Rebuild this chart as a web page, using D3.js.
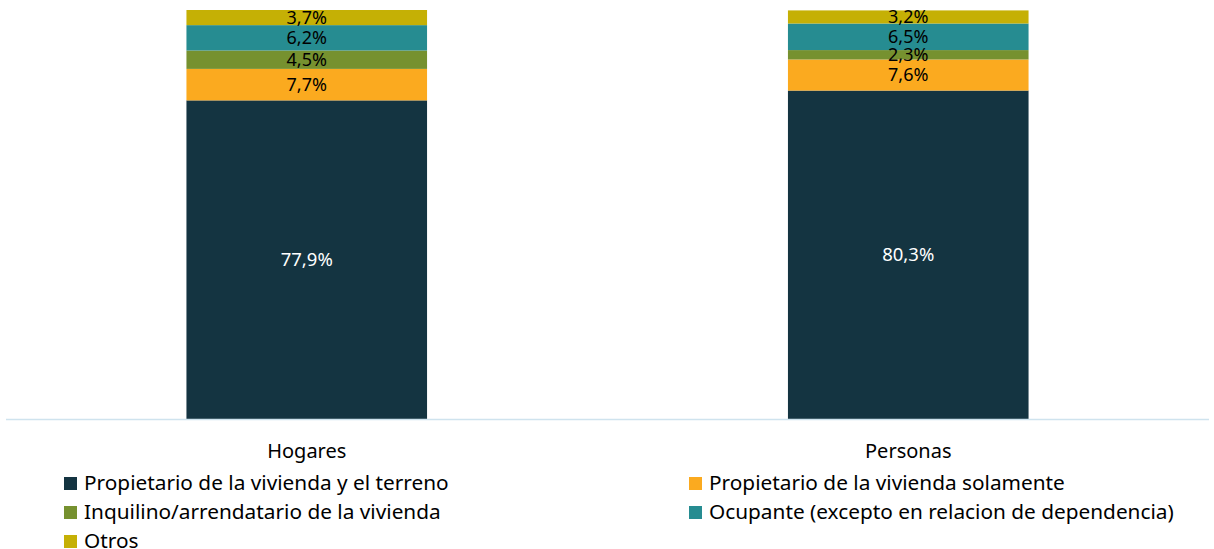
<!DOCTYPE html>
<html><head><meta charset="utf-8">
<script src="https://cdn.jsdelivr.net/npm/d3@7"></script>
<style>body{margin:0;background:#fff}svg{display:block}text{font-family:"Noto Sans",sans-serif}</style>
</head><body>
<svg id="c" width="1214" height="549"></svg>
<script>
const categories = ["Hogares", "Personas"];
const seriesNames = ["Propietario de la vivienda y el terreno","Propietario de la vivienda solamente","Inquilino/arrendatario de la vivienda","Ocupante (excepto en relacion de dependencia)","Otros"];
const propViviendaTerreno = [77.9, 80.3];
const propViviendaSolamente = [7.7, 7.6];
const inquilino = [4.5, 2.3];
const ocupante = [6.2, 6.5];
const otros = [3.7, 3.2];
const colors = ["#143441","#FBAA1F","#76912F","#268C91","#C5B005"];
const labelColors = ["#ffffff","#000000","#000000","#000000","#000000"];

const series = [propViviendaTerreno, propViviendaSolamente, inquilino, ocupante, otros];
const rows = categories.map((c,i)=>{const o={cat:c}; seriesNames.forEach((s,j)=>o[s]=series[j][i]); return o;});
const stacked = d3.stack().keys(seriesNames)(rows);

const svg = d3.select("#c");
const x = d3.scaleBand().domain(categories).range([6,1209]).paddingInner(0.6).paddingOuter(0.3);
const y = d3.scaleLinear().domain([0,100]).range([419,10]);

const fmt = v => v.toFixed(1).replace(".", ",") + "%";

stacked.forEach((layer,j)=>{
  const g = svg.append("g");
  g.selectAll("rect").data(layer).join("rect")
    .attr("x", d=>x(d.data.cat)).attr("width", x.bandwidth())
    .attr("y", d=>y(d[1])).attr("height", d=>y(d[0])-y(d[1]))
    .attr("fill", colors[j]);
});
stacked.forEach((layer,j)=>{
  svg.append("g").selectAll("text").data(layer).join("text")
    .attr("x", d=>x(d.data.cat)+x.bandwidth()/2)
    .attr("y", d=>(y(d[0])+y(d[1]))/2)
    .attr("dy","0.35em").attr("text-anchor","middle")
    .attr("font-size", j===0 ? 18.5 : 18).attr("fill", labelColors[j])
    .text(d=>fmt(d[1]-d[0]));
});

// axis line
svg.append("line").attr("x1",6).attr("x2",1209).attr("y1",419.5).attr("y2",419.5)
  .attr("stroke","#cfe3ee").attr("stroke-width",1.5);

const xAxis = svg.append("g").attr("transform","translate(0,420)")
  .call(d3.axisBottom(x).tickSize(0).tickPadding(0));
xAxis.select(".domain").remove();
xAxis.selectAll("text").attr("font-size",20).attr("fill","#000").attr("dy","0.35em").attr("y",31)
  .style("font-family","'Noto Sans',sans-serif");

// legend
const legPos = [[64,483],[689,483],[64,512],[689,512],[64,541]];
seriesNames.forEach((s,j)=>{
  const [lx,ly] = legPos[j];
  svg.append("rect").attr("x",lx).attr("y",ly-6).attr("width",13).attr("height",13).attr("fill",colors[j]);
  svg.append("text").attr("x",lx+20).attr("y",ly).attr("dy","0.35em").attr("font-size",20.8).attr("fill","#000").text(s);
});
</script>
</body></html>
